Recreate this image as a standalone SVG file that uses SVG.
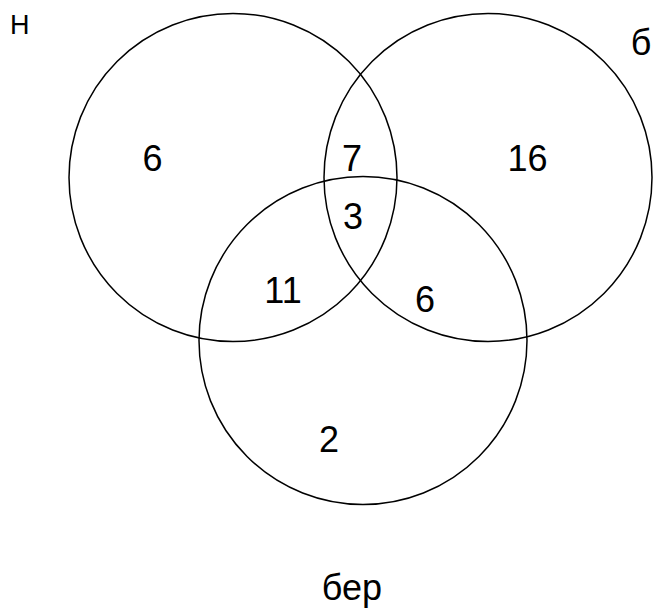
<svg xmlns="http://www.w3.org/2000/svg" width="654" height="609" viewBox="0 0 654 609">
<style>
.c{fill:none;stroke:#000;stroke-width:1.5}
.t{font-family:"Liberation Sans",Arial,sans-serif;font-size:36px;fill:#000;text-anchor:middle}
.s{font-family:"Liberation Sans",Arial,sans-serif;font-size:27px;fill:#000}
</style>
<rect width="654" height="609" fill="#fff"/>
<g id="set-n"><circle class="c" cx="233" cy="177.5" r="164"/></g>
<g id="set-b"><circle class="c" cx="488" cy="177.5" r="164"/></g>
<g id="set-ber"><circle class="c" cx="363" cy="340.5" r="164"/></g>
<g id="labels">
<text class="s" x="10" y="34">Н</text>
<text class="t" x="641" y="55">б</text>
<text class="t" x="352" y="600">бер</text>
</g>
<g id="counts">
<text class="t" x="152.5" y="171">6</text>
<text class="t" x="352" y="171">7</text>
<text class="t" x="527.5" y="171">16</text>
<text class="t" x="353" y="229">3</text>
<text class="t" x="283" y="303">11</text>
<text class="t" x="425" y="312">6</text>
<text class="t" x="329" y="452">2</text>
</g>
</svg>
